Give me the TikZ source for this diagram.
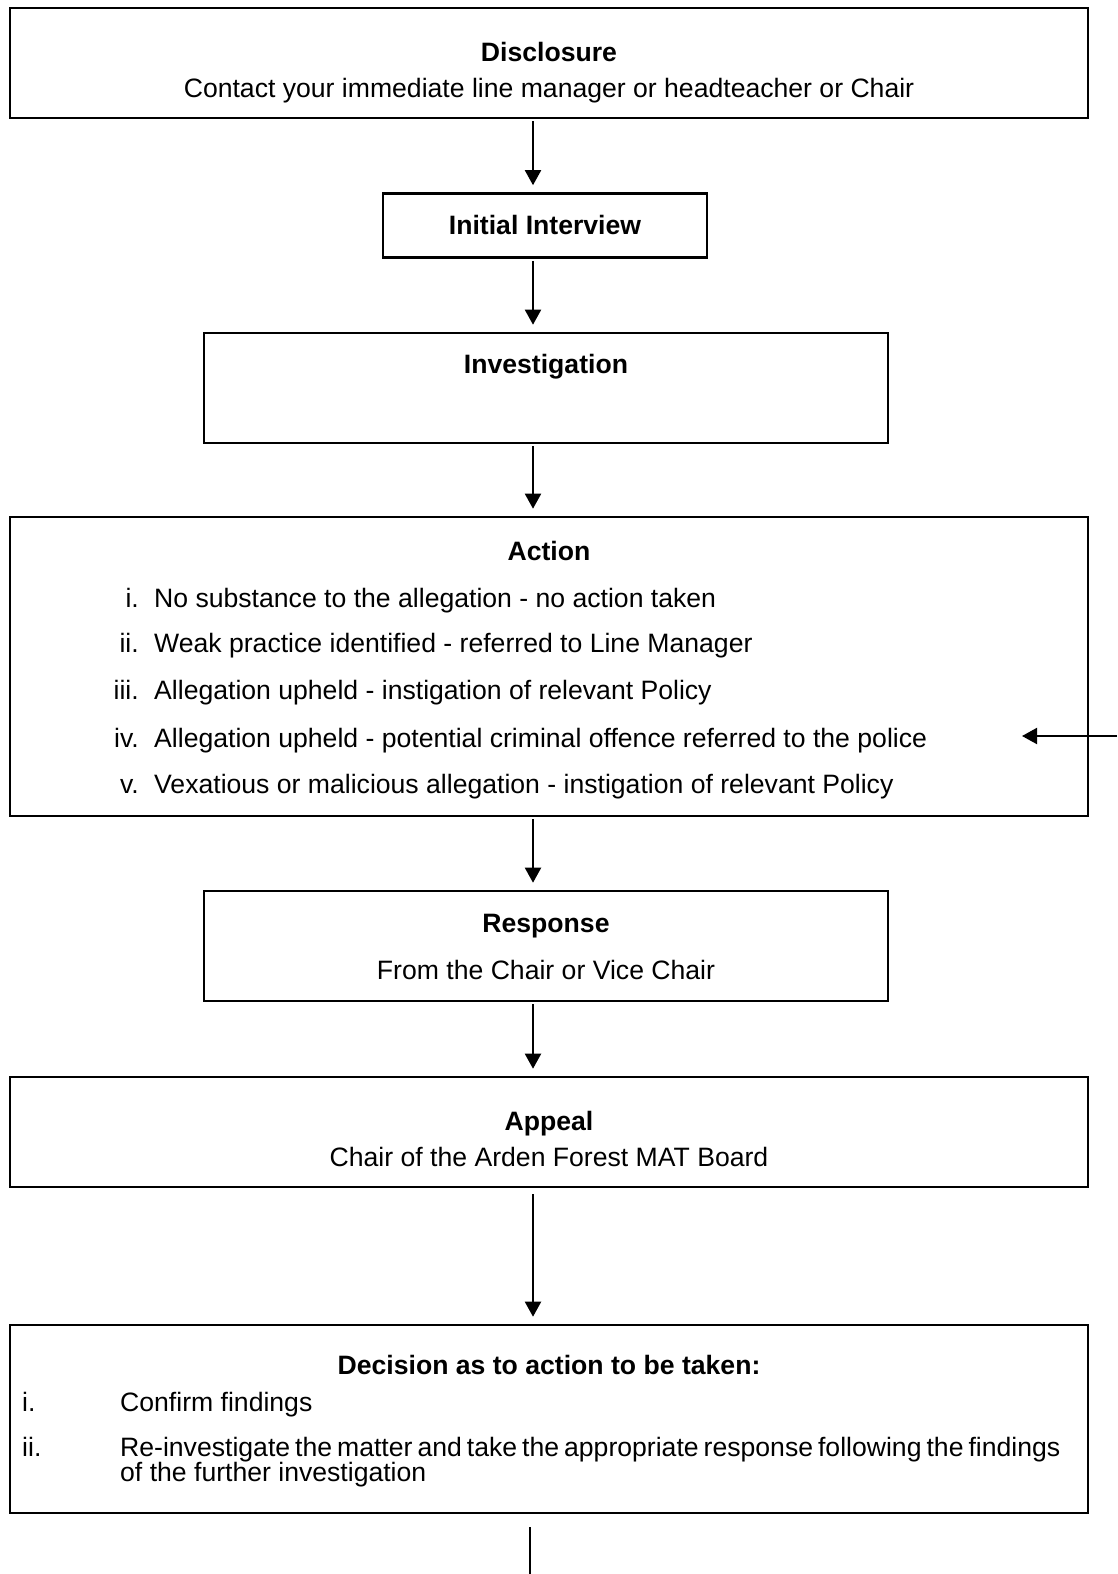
\documentclass[tikz,border=0pt]{standalone}
\usepackage{fontspec}
\setmainfont{Liberation Sans}
\usetikzlibrary{arrows.meta}

\tikzset{
  panel/.style={draw, line width=2.6pt, inner sep=0pt},
  flow/.style={-{Triangle[width=16pt,length=15pt]}, line width=2pt, shorten >=7pt, shorten <=2pt},
  txt/.style={inner sep=0pt, anchor=base, font=\fontsize{26.6}{30}\selectfont},
  head/.style={txt, font=\fontsize{26.6}{30}\selectfont\bfseries},
  num/.style={txt, anchor=base east},
  item/.style={txt, anchor=base west}
}

\begin{document}
\begin{tikzpicture}[x=1pt, y=-1pt]
    \useasboundingbox (0,0) rectangle (1117,1574);

    % boxes
    \node[panel, minimum width=1078pt, minimum height=110pt] (disc) at (549,63) {};
    \node[panel, minimum width=324pt, minimum height=64pt] (init) at (545,225.5) {};
    \node[panel, minimum width=684pt, minimum height=110pt] (inv) at (546,388) {};
    \node[panel, minimum width=1078pt, minimum height=299pt] (act) at (549,666.5) {};
    \node[panel, minimum width=684pt, minimum height=110pt] (resp) at (546,946) {};
    \node[panel, minimum width=1078pt, minimum height=110pt] (appeal) at (549,1132) {};
    \node[panel, minimum width=1078pt, minimum height=188pt] (dec) at (549,1419) {};

    % texts
    \node[head] (discT) at (549,61) {Disclosure};
    \node[txt] (discL) at (549,97) {Contact your immediate line manager or headteacher or Chair};
    \node[head] (initT) at (545,234) {Initial Interview};
    \node[head] (invT) at (546,373) {Investigation};
    \node[head] (actT) at (549,560) {Action};
    \node[num] (a1) at (139,607) {i.};
    \node[item] (a1t) at (154,607) {No substance to the allegation - no action taken};
    \node[num] (a2) at (139,652) {ii.};
    \node[item] (a2t) at (154,652) {Weak practice identified - referred to Line Manager};
    \node[num] (a3) at (139,699) {iii.};
    \node[item] (a3t) at (154,699) {Allegation upheld - instigation of relevant Policy};
    \node[num] (a4) at (139,747) {iv.};
    \node[item] (a4t) at (154,747) {Allegation upheld - potential criminal offence referred to the police};
    \node[num] (a5) at (139,793) {v.};
    \node[item] (a5t) at (154,793) {Vexatious or malicious allegation - instigation of relevant Policy};
    \node[head] (respT) at (546,932) {Response};
    \node[txt] (respL) at (546,979) {From the Chair or Vice Chair};
    \node[head] (appealT) at (549,1130) {Appeal};
    \node[txt] (appealL) at (549,1166) {Chair of the Arden Forest MAT Board};
    \node[head] (decT) at (549,1374) {Decision as to action to be taken:};
    \node[item] (d1) at (22,1411) {i.};
    \node[item] (d1t) at (120,1411) {Confirm findings};
    \node[item] (d2) at (22,1456) {ii.};
    \node[item] (d2t) at (120,1456) {\spaceskip=5pt Re-investigate the matter and take the appropriate response following the findings};
    \node[item] (d2u) at (120,1481) {of the further investigation};

    % connectors
    \coordinate (ax) at (533,0);
    \draw[flow] (ax |- disc.south) -- (ax |- init.north);
    \draw[flow] (ax |- init.south) -- (ax |- inv.north);
    \draw[flow] (ax |- inv.south) -- (ax |- act.north);
    \draw[flow] (ax |- act.south) -- (ax |- resp.north);
    \draw[flow] (ax |- resp.south) -- (ax |- appeal.north);
    \draw[flow, shorten <=6pt] (ax |- appeal.south) -- (ax |- dec.north);

    \coordinate (feed) at (1117,736);
    \coordinate (feedEnd) at (1022,736);
    \draw[flow, shorten >=0pt, shorten <=0pt] (feed) -- (feedEnd);

    \coordinate (tailTop) at (530,1527);
    \coordinate (tailEnd) at (530,1574);
    \draw[line width=2pt] (tailTop) -- (tailEnd);
\end{tikzpicture}
\end{document}
